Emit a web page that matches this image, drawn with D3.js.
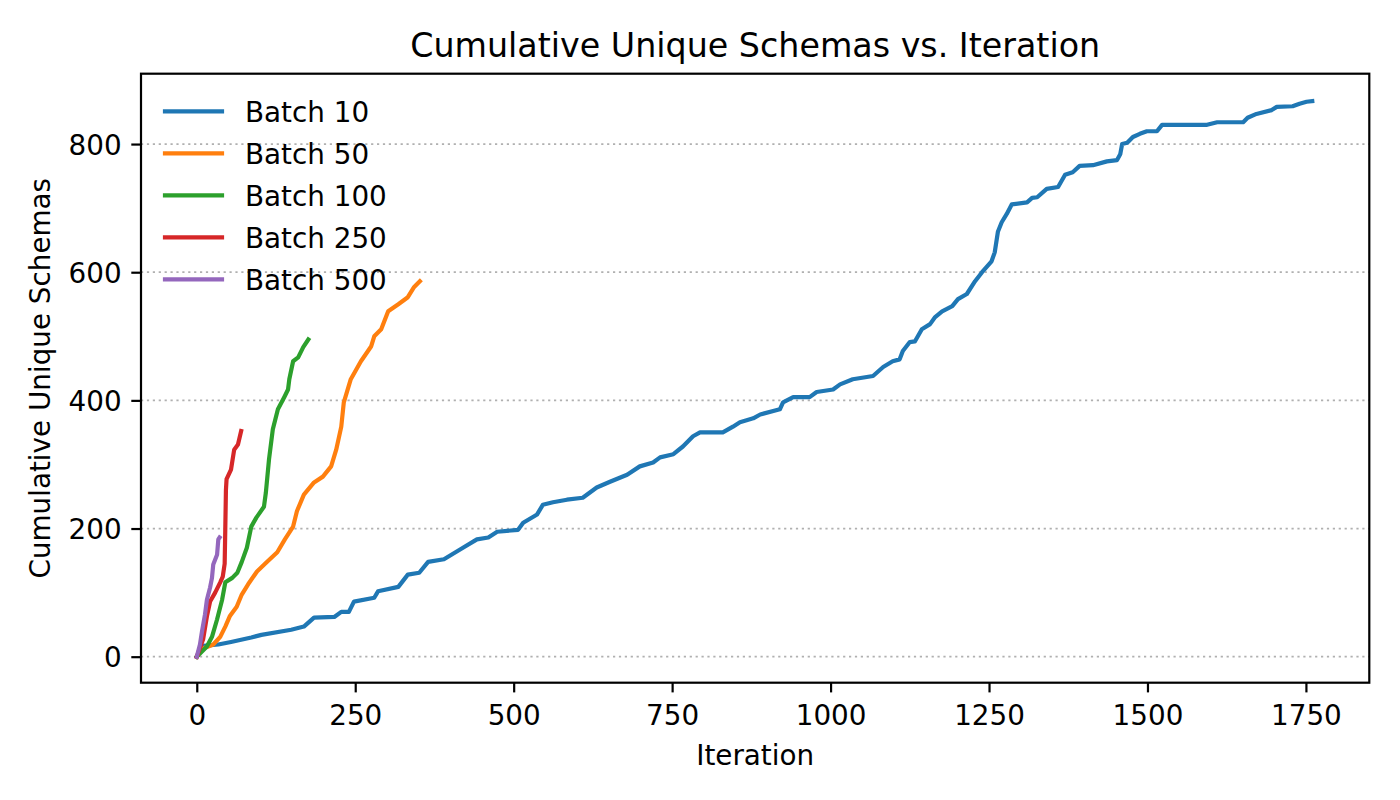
<!DOCTYPE html>
<html>
<head>
<meta charset="utf-8">
<script src="https://cdn.jsdelivr.net/npm/d3@7"></script>
<style>
	body { margin: 0; background: #fff; }
	text { font-family: "DejaVu Sans", sans-serif; fill: #000; }
</style>
</head>
<body>
<script>

// values: [iteration, cumulative unique schemas]
var batch10 = [[0,0],[10,17],[34,19],[54,23],[86,30],[102,34],[149,42],[169,47],[185,61],[217,62],[228,70],[240,70],[248,86],[280,92],[286,102],[318,109],[333,128],[351,131],[365,148],[390,152],[420,170],[442,183],[460,186],[474,195],[507,198],[515,209],[537,222],[546,237],[562,241],[584,245],[609,248],[631,264],[652,273],[679,284],[699,297],[720,303],[731,311],[752,316],[767,328],[783,344],[794,350],[830,350],[846,359],[857,366],[878,372],[889,378],[920,386],[925,397],[941,405],[967,405],[978,413],[1004,417],[1015,425],[1035,433],[1067,438],[1083,452],[1098,461],[1109,464],[1114,477],[1125,491],[1133,492],[1144,511],[1157,519],[1165,530],[1176,539],[1192,547],[1201,558],[1215,566],[1228,586],[1239,600],[1254,617],[1259,631],[1264,663],[1270,678],[1278,691],[1286,706],[1310,709],[1318,716],[1326,717],[1341,730],[1359,733],[1370,752],[1382,756],[1393,766],[1414,767],[1436,773],[1452,775],[1457,784],[1460,800],[1468,802],[1477,811],[1488,816],[1499,820],[1515,820],[1523,830],[1594,830],[1610,834],[1651,834],[1658,841],[1672,847],[1696,853],[1704,858],[1729,859],[1740,863],[1751,866],[1760,867]];
var batch50 = [[0,0],[8,12],[26,19],[37,31],[45,47],[52,63],[63,78],[71,97],[81,113],[95,133],[111,148],[127,163],[139,183],[152,203],[158,227],[169,253],[185,272],[199,281],[212,297],[220,323],[228,359],[232,397],[243,433],[259,461],[275,484],[280,500],[291,511],[302,539],[318,550],[333,561],[343,577],[352,586]];
var batch100 = [[0,0],[16,16],[24,31],[32,58],[40,89],[45,116],[56,123],[64,131],[71,148],[79,170],[86,203],[94,217],[106,234],[109,256],[114,308],[120,355],[128,386],[138,405],[144,417],[146,433],[152,461],[160,467],[168,483],[176,495]];
var batch250 = [[0,0],[10,27],[16,63],[21,86],[29,100],[37,116],[41,125],[44,145],[45,200],[46,260],[47,277],[54,292],[59,323],[65,331],[70,352]];
var batch500 = [[0,0],[5,19],[8,38],[13,66],[16,89],[21,108],[24,123],[26,144],[32,159],[34,183],[36,186]];

var seriesNames = ["Batch 10", "Batch 50", "Batch 100", "Batch 250", "Batch 500"];
var seriesColors = ["#1f77b4", "#ff7f0e", "#2ca02c", "#d62728", "#9467bd"];
var xTicks = [0, 250, 500, 750, 1000, 1250, 1500, 1750];
var yTicks = [0, 200, 400, 600, 800];

var series = [batch10, batch50, batch100, batch250, batch500].map(function(d, i){
	return {name: seriesNames[i], color: seriesColors[i], values: d};
});

var width = 1400,
	height = 800,
	plotLeft = 141, plotRight = 1369.3, plotTop = 73.7, plotBottom = 682.7;

var x = d3.scaleLinear().domain([-88, 1850]).range([plotLeft, plotRight]);
var y = d3.scaleLinear().domain([-40.6, 909.8]).range([plotBottom, plotTop]);

var svg = d3.select("body").append("svg")
		.attr("width", width)
		.attr("height", height);

svg.append("rect")
		.attr("width", width)
		.attr("height", height)
		.attr("fill", "#fff");

// horizontal dotted grid
svg.append("g").selectAll("line")
		.data(yTicks)
	.enter().append("line")
		.attr("x1", plotLeft)
		.attr("x2", plotRight)
		.attr("y1", function(d){ return y(d); })
		.attr("y2", function(d){ return y(d); })
		.attr("stroke", "#b0b0b0")
		.attr("stroke-width", 1.8)
		.attr("stroke-dasharray", "2.2,3.7");

var line = d3.line()
		.x(function(d){ return x(d[0]); })
		.y(function(d){ return y(d[1]); });

svg.append("g").selectAll("path")
		.data(series)
	.enter().append("path")
		.attr("d", function(d){ return line(d.values); })
		.attr("fill", "none")
		.attr("stroke", function(d){ return d.color; })
		.attr("stroke-width", 4.2)
		.attr("stroke-linejoin", "round")
		.attr("stroke-linecap", "square");

// axes
var xAxis = svg.append("g")
		.attr("transform", "translate(0," + plotBottom + ")")
		.call(d3.axisBottom(x).tickValues(xTicks).tickFormat(d3.format("d")).tickSize(9.7).tickPadding(9.7));
var yAxis = svg.append("g")
		.attr("transform", "translate(" + plotLeft + ",0)")
		.call(d3.axisLeft(y).tickValues(yTicks).tickFormat(d3.format("d")).tickSize(9.7).tickPadding(9.7));

[xAxis, yAxis].forEach(function(a){
	a.select(".domain").remove();
	a.selectAll(".tick line").attr("stroke", "#000").attr("stroke-width", 2.2);
	a.selectAll(".tick text")
			.attr("font-family", "DejaVu Sans")
			.attr("font-size", 27.8)
			.attr("fill", "#000");
});
xAxis.selectAll(".tick text").attr("dy", null).attr("y", 42.3);
yAxis.selectAll(".tick text").attr("dy", "0.36em");

// frame
svg.append("rect")
		.attr("x", plotLeft)
		.attr("y", plotTop)
		.attr("width", plotRight - plotLeft)
		.attr("height", plotBottom - plotTop)
		.attr("fill", "none")
		.attr("stroke", "#000")
		.attr("stroke-width", 2.2);

svg.append("text")
		.attr("x", (plotLeft + plotRight) / 2)
		.attr("y", 57.3)
		.attr("text-anchor", "middle")
		.attr("font-size", 33.3)
		.text("Cumulative Unique Schemas vs. Iteration");

svg.append("text")
		.attr("x", (plotLeft + plotRight) / 2)
		.attr("y", 765)
		.attr("text-anchor", "middle")
		.attr("font-size", 27.8)
		.text("Iteration");

svg.append("text")
		.attr("transform", "translate(50," + (plotTop + plotBottom) / 2 + ") rotate(-90)")
		.attr("text-anchor", "middle")
		.attr("font-size", 27.8)
		.text("Cumulative Unique Schemas");

// legend
var legend = svg.append("g").selectAll("g")
		.data(series)
	.enter().append("g")
		.attr("transform", function(d, i){ return "translate(0," + (111.3 + i * 42) + ")"; });

legend.append("line")
		.attr("x1", 165)
		.attr("x2", 222)
		.attr("stroke", function(d){ return d.color; })
		.attr("stroke-width", 4.2)
		.attr("stroke-linecap", "square");

legend.append("text")
		.attr("x", 245)
		.attr("y", 10.5)
		.attr("font-size", 27.8)
		.text(function(d){ return d.name; });

</script>
</body>
</html>
